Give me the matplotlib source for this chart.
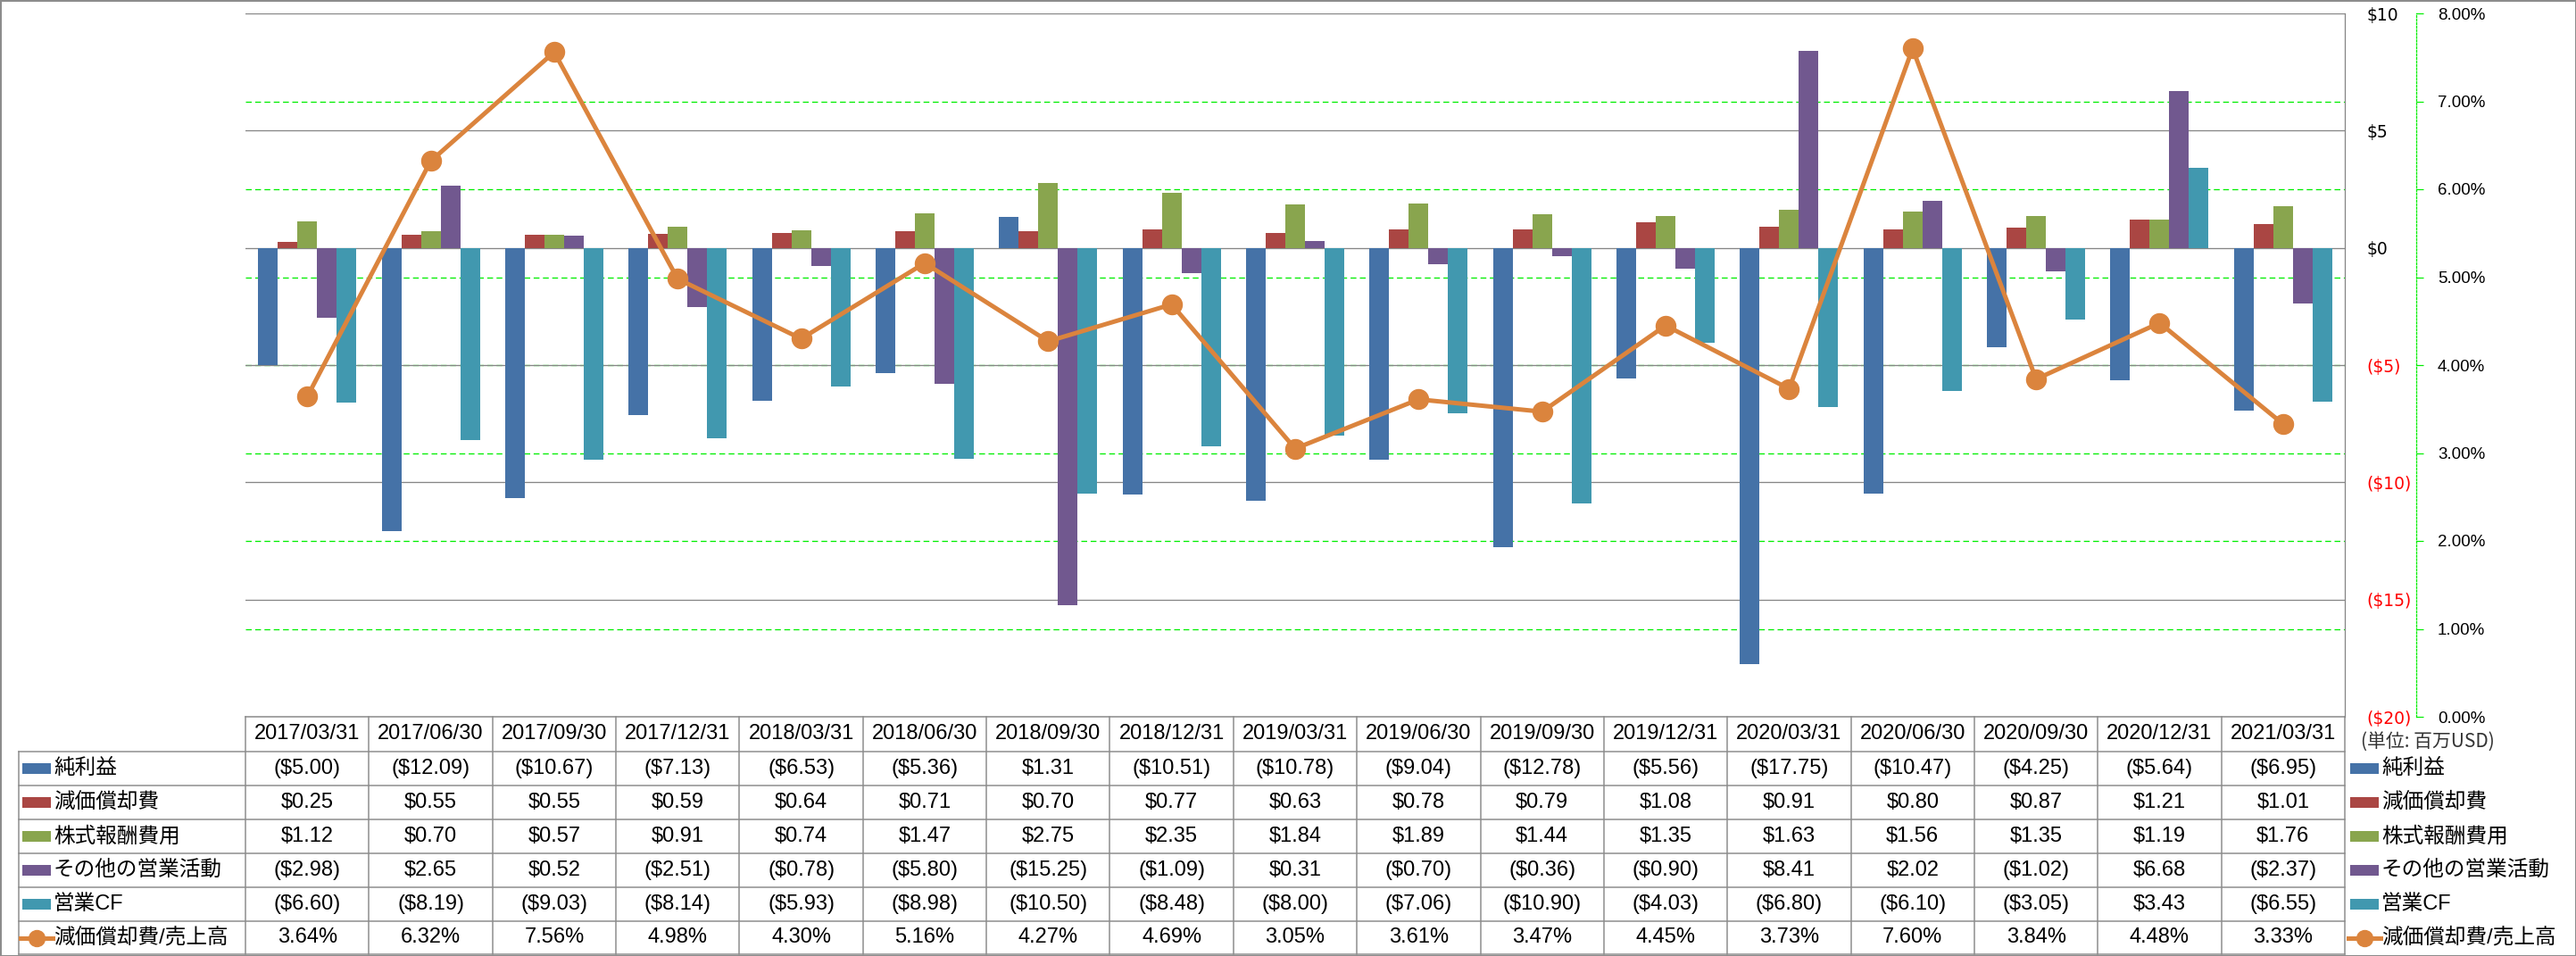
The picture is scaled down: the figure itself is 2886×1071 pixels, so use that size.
import matplotlib
matplotlib.use('Agg')
import matplotlib.pyplot as plt
import matplotlib.transforms as mtransforms
from matplotlib.lines import Line2D
from matplotlib.patches import Rectangle
import numpy as np

plt.rcParams['font.family'] = ['Liberation Sans', 'Noto Sans CJK JP']

# データ (単位: 百万USD)
dates = ['2017/03/31', '2017/06/30', '2017/09/30', '2017/12/31', '2018/03/31',
         '2018/06/30', '2018/09/30', '2018/12/31', '2019/03/31', '2019/06/30',
         '2019/09/30', '2019/12/31', '2020/03/31', '2020/06/30', '2020/09/30',
         '2020/12/31', '2021/03/31']
純利益 = [-5.00, -12.09, -10.67, -7.13, -6.53, -5.36, 1.31, -10.51, -10.78, -9.04,
        -12.78, -5.56, -17.75, -10.47, -4.25, -5.64, -6.95]
減価償却費 = [0.25, 0.55, 0.55, 0.59, 0.64, 0.71, 0.70, 0.77, 0.63, 0.78,
          0.79, 1.08, 0.91, 0.80, 0.87, 1.21, 1.01]
株式報酬費用 = [1.12, 0.70, 0.57, 0.91, 0.74, 1.47, 2.75, 2.35, 1.84, 1.89,
          1.44, 1.35, 1.63, 1.56, 1.35, 1.19, 1.76]
その他の営業活動 = [-2.98, 2.65, 0.52, -2.51, -0.78, -5.80, -15.25, -1.09, 0.31, -0.70,
            -0.36, -0.90, 8.41, 2.02, -1.02, 6.68, -2.37]
営業CF = [-6.60, -8.19, -9.03, -8.14, -5.93, -8.98, -10.50, -8.48, -8.00, -7.06,
        -10.90, -4.03, -6.80, -6.10, -3.05, 3.43, -6.55]
償却費売上高比 = [3.64, 6.32, 7.56, 4.98, 4.30, 5.16, 4.27, 4.69, 3.05, 3.61,
          3.47, 4.45, 3.73, 7.60, 3.84, 4.48, 3.33]

bar_names = ['純利益', '減価償却費', '株式報酬費用', 'その他の営業活動', '営業CF']
bar_values = [純利益, 減価償却費, 株式報酬費用, その他の営業活動, 営業CF]
bar_colors = ['#4572A7', '#AA4643', '#89A54E', '#71588F', '#4198AF']
line_name = '減価償却費/売上高'
line_color = '#DB843D'

usd_ticks = [-20, -15, -10, -5, 0, 5, 10]
pct_ticks = [0, 1, 2, 3, 4, 5, 6, 7, 8]

W, H, DPI = 2886, 1071, 100
PT = 72 / DPI


def fx(px):
    return px / W


def fy(py):
    return 1 - py / H


def usd(v):
    return f'(${-v:.2f})' if v < 0 else f'${v:.2f}'


def usd_tick(v):
    return f'(${-v})' if v < 0 else f'${v}'


fig = plt.figure(figsize=(W / DPI, H / DPI), dpi=DPI)

X0, X1, Y0, Y1 = 275, 2627, 15, 803
ax = fig.add_axes([fx(X0), fy(Y1), fx(X1 - X0), (Y1 - Y0) / H])
ax3 = ax.twinx()   # 緑の補助線用
ax2 = ax.twinx()   # 折れ線
ax3.set_zorder(1)
ax.set_zorder(2)
ax2.set_zorder(3)
for a in (ax, ax2, ax3):
    a.patch.set_visible(False)

x = np.arange(len(dates))
bw = 22 / ((X1 - X0) / len(dates))
for k, vals in enumerate(bar_values):
    ax.bar(x + (k - 2) * bw, vals, bw, color=bar_colors[k], zorder=3)

ax.set_xlim(-0.5, len(dates) - 0.5)
ax.set_ylim(-20, 10)
ax.set_xticks([])
ax.yaxis.tick_right()
ax.set_yticks(usd_ticks, [usd_tick(v) for v in usd_ticks], fontfamily='DejaVu Sans')
ax.tick_params(axis='y', length=0, pad=24 * PT, labelsize=13.5)
for t, v in zip(ax.yaxis.get_major_ticks(), usd_ticks):
    t.label2.set_color('#FF0000' if v < 0 else 'black')
ax.grid(axis='y', color='#868686', lw=1.3 * PT, zorder=0)
for s in ['left', 'top', 'bottom']:
    ax.spines[s].set_visible(False)
ax.spines['right'].set_color('#868686')
ax.spines['right'].set_linewidth(1.3 * PT)

# 補助線 (緑)
ax3.set_ylim(0, 8)
ax3.set_yticks(pct_ticks[1:-1])
ax3.tick_params(axis='y', length=0, labelright=False)
ax3.grid(axis='y', color='#00EE00', lw=1.3 * PT, linestyle=(0, (5, 3)))
for s in ax3.spines.values():
    s.set_visible(False)

# 第2軸と折れ線
ax2.plot(x, 償却費売上高比, color=line_color, lw=5 * PT, marker='o', ms=22 * PT,
         zorder=3, clip_on=False)
ax2.set_ylim(0, 8)
ax2.set_yticks(pct_ticks, [f'{v:.2f}%' for v in pct_ticks], fontfamily='DejaVu Sans')
ax2.tick_params(axis='y', direction='out', length=8 * PT, width=1.2 * PT,
                color='#00EE00', pad=16 * PT, labelsize=13.5)
for s in ['left', 'top', 'bottom']:
    ax2.spines[s].set_visible(False)
ax2.spines['right'].set_position(('outward', 80 * PT))
ax2.spines['right'].set_color('#00EE00')
ax2.spines['right'].set_linestyle((0, (1.5, 1.5)))
ax2.spines['right'].set_linewidth(1.3 * PT)

# データテーブル
grid_c = '#8C8C8C'
tdata = mtransforms.blended_transform_factory(ax.transData, fig.transFigure)
row_top = [842, 880, 918, 956, 994, 1032, 1069]

fig.add_artist(Line2D([fx(X0), fx(X1)], [fy(Y1), fy(Y1)], color=grid_c, lw=1.5 * PT))
for py in row_top:
    fig.add_artist(Line2D([fx(21), fx(X1)], [fy(py), fy(py)], color=grid_c, lw=1.5 * PT))
for k in range(len(dates) + 1):
    fig.add_artist(Line2D([k - 0.5, k - 0.5], [fy(Y1), fy(1069)], transform=tdata,
                          color=grid_c, lw=1.5 * PT))
fig.add_artist(Line2D([fx(21), fx(21)], [fy(842), fy(1069)], color=grid_c, lw=1.5 * PT))

for i, d in enumerate(dates):
    ax.text(i, fy((Y1 + 842) / 2), d, transform=tdata, ha='center', va='center',
            fontsize=17)

rows = [[usd(v) for v in vals] for vals in bar_values]
rows.append([f'{v:.2f}%' for v in 償却費売上高比])
labels = bar_names + [line_name]

for r, (lab, cells) in enumerate(zip(labels, rows)):
    cy = (row_top[r] + row_top[r + 1]) / 2
    for i, c in enumerate(cells):
        ax.text(i, fy(cy), c, transform=tdata, ha='center', va='center', fontsize=17)
    for lx in (25, 2633):
        if r < len(bar_names):
            fig.add_artist(Rectangle((fx(lx), fy(cy + 6)), fx(32), 12 / H,
                                     transform=fig.transFigure, color=bar_colors[r],
                                     lw=0))
        else:
            fig.add_artist(Line2D([fx(lx - 2), fx(lx + 34)], [fy(cy), fy(cy)],
                                  color=line_color, lw=5 * PT))
            fig.add_artist(Line2D([fx(lx + 16)], [fy(cy)], color=line_color,
                                  marker='o', ms=18 * PT, lw=0))
        fig.text(fx(lx + 35), fy(cy), lab, ha='left', va='center', fontsize=17)

fig.text(fx(2645), fy(831), '(単位: 百万USD)', ha='left', va='center', fontsize=15,
         color='#333333', family=['Noto Sans CJK JP', 'DejaVu Sans'])

fig.add_artist(Rectangle((0, 0), 1, 1, transform=fig.transFigure, fill=False,
                         edgecolor=grid_c, lw=3 * PT))

fig.savefig('out.png', dpi=DPI)
